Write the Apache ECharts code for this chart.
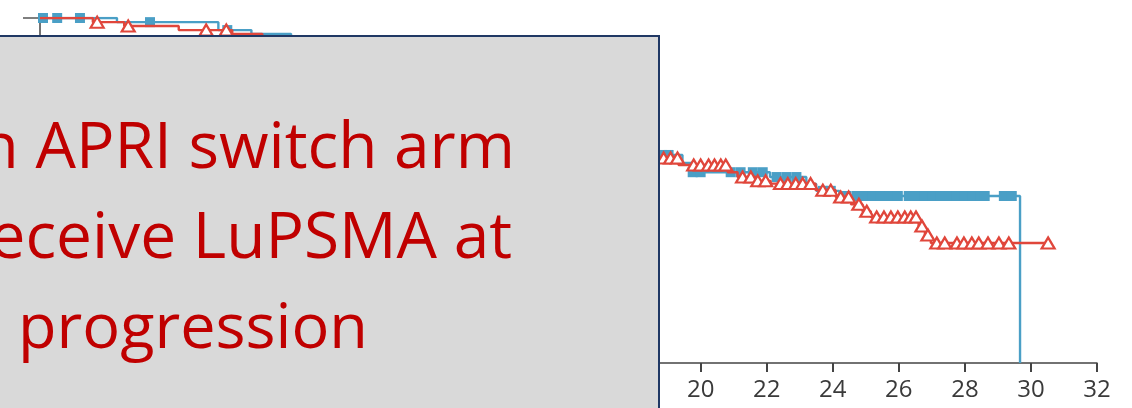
<!DOCTYPE html>
<html>
<head>
<meta charset="utf-8">
<script src="https://cdn.jsdelivr.net/npm/echarts@6/dist/echarts.min.js"></script>
<style>
  html, body { margin: 0; padding: 0; background: #fff; }
  #chart { width: 1132px; height: 408px; }
</style>
</head>
<body>
<div id="chart"></div>
<script>
// x-axis ticks (months)
const xTicks = [0, 2, 4, 6, 8, 10, 12, 14, 16, 18, 20, 22, 24, 26, 28, 30, 32];

// blue arm: step times and survival after each step
const blueTimes = [0, 2.33, 5.4, 6.4, 7.6, 8.5, 9.5, 10.3, 11.0, 12.0, 12.8, 13.6, 14.5, 15.3, 16.2, 17.0, 17.8, 18.5, 19.45, 19.75, 22.1, 23.2, 23.5, 24.2, 29.67];
const blueSurv = [1, 0.988, 0.965, 0.954, 0.945, 0.92, 0.89, 0.86, 0.83, 0.80, 0.77, 0.74, 0.71, 0.68, 0.66, 0.64, 0.62, 0.603, 0.58, 0.553, 0.539, 0.519, 0.499, 0.484, 0];
// blue censor marks (squares)
const blueCensored = [0.09, 0.52, 1.21, 3.33, 5.67, 18.85, 19.03, 19.76, 20.0, 20.91, 21.21, 21.58, 21.88, 22.3, 22.6, 22.9, 23.7, 23.94,
  24.42, 24.73, 24.97, 25.21, 25.45, 25.73, 25.97, 26.3, 26.55, 26.79, 27.03, 27.27, 27.52, 27.76, 28.0, 28.24, 28.48, 28.6, 29.18, 29.42];

// red arm: step times and survival after each step
const redTimes = [0, 1.6, 2.55, 4.2, 5.82, 6.73, 7.5, 8.4, 9.2, 10.1, 11.0, 11.9, 12.7, 13.5, 14.3, 15.3, 16.4, 17.5, 18.4, 19.33, 20.82, 21.12, 21.67, 22.12, 23.48, 24.09, 24.55, 24.9, 25.15, 26.6, 26.79, 26.97, 30.52];
const redSurv = [1, 0.988, 0.977, 0.965, 0.954, 0.945, 0.93, 0.90, 0.87, 0.84, 0.81, 0.78, 0.75, 0.72, 0.69, 0.665, 0.64, 0.615, 0.594, 0.574, 0.553, 0.539, 0.528, 0.52, 0.501, 0.481, 0.46, 0.44, 0.423, 0.397, 0.371, 0.348, 0.348];
// red censor marks (open triangles)
const redCensored = [1.73, 2.67, 5.03, 5.64, 18.88, 19.09, 19.3, 19.79, 20.0, 20.24, 20.42, 20.61, 20.76, 21.27, 21.52, 21.73, 21.97, 22.42, 22.64, 22.88,
  23.09, 23.33, 23.7, 23.94, 24.24, 24.48, 24.79, 25.03, 25.33, 25.55, 25.76, 25.97, 26.18, 26.36, 26.52, 26.7, 26.88, 27.15, 27.39, 27.76,
  27.97, 28.21, 28.42, 28.7, 29.03, 29.33, 30.52];

// overlay note
const noteLines = ['n APRI switch arm', 'eceive LuPSMA at', 'progression'];

const blue = '#4a9fc6';
const red = '#e0463b';
const noteFont = 'Open Sans';

function survAt(times, surv, t) {
  let s = surv[0];
  for (let i = 0; i < times.length; i++) {
    if (times[i] <= t) s = surv[i];
  }
  return s;
}

const chart = echarts.init(document.getElementById('chart'));

const option = {
  animation: false,
  grid: { left: 40, right: 35, top: 18, bottom: 45 },
  xAxis: {
    type: 'value',
    min: xTicks[0],
    max: xTicks[xTicks.length - 1],
    interval: 2,
    axisLine: { lineStyle: { color: '#444', width: 1.5 } },
    axisTick: { length: 9, lineStyle: { color: '#444', width: 2 } },
    axisLabel: { color: '#3a3a3a', fontFamily: noteFont, fontSize: 24, margin: 15 },
    splitLine: { show: false }
  },
  yAxis: {
    type: 'value',
    min: 0,
    max: 1,
    interval: 0.2,
    axisLine: { show: true, lineStyle: { color: '#444', width: 1.5 } },
    axisTick: { show: true, length: 17, lineStyle: { color: '#555', width: 1.5 } },
    axisLabel: { show: false },
    splitLine: { show: false }
  },
  series: [
    {
      type: 'line',
      step: 'end',
      showSymbol: false,
      data: blueTimes.map((t, i) => [t, blueSurv[i]]),
      lineStyle: { color: blue, width: 2.4 },
      z: 2
    },
    {
      type: 'scatter',
      symbol: 'rect',
      symbolSize: 10,
      data: blueCensored.map(t => [t, survAt(blueTimes, blueSurv, t)]),
      itemStyle: { color: blue, opacity: 1 },
      z: 3
    },
    {
      type: 'line',
      step: 'end',
      showSymbol: false,
      data: redTimes.map((t, i) => [t, redSurv[i]]),
      lineStyle: { color: red, width: 2.4 },
      z: 4
    },
    {
      type: 'scatter',
      symbol: 'triangle',
      symbolSize: [13, 11],
      data: redCensored.map(t => [t, survAt(redTimes, redSurv, t)]),
      itemStyle: { color: '#fff', borderColor: red, borderWidth: 2.2, opacity: 1 },
      z: 5
    }
  ],
  graphic: [
    {
      type: 'rect',
      z: 100,
      shape: { x: -10, y: 36, width: 669, height: 400 },
      style: { fill: '#d9d9d9', stroke: '#203864', lineWidth: 2 }
    },
    {
      type: 'text', z: 101, x: 515, y: 150,
      style: { text: noteLines[0], fill: '#c00000', fontFamily: noteFont, fontSize: 64, align: 'right', verticalAlign: 'middle' }
    },
    {
      type: 'text', z: 101, x: 512, y: 240,
      style: { text: noteLines[1], fill: '#c00000', fontFamily: noteFont, fontSize: 64, align: 'right', verticalAlign: 'middle' }
    },
    {
      type: 'text', z: 101, x: 18, y: 330,
      style: { text: noteLines[2], fill: '#c00000', fontFamily: noteFont, fontSize: 63, align: 'left', verticalAlign: 'middle' }
    }
  ]
};

chart.setOption(option);
window.addEventListener('resize', () => chart.resize());
</script>
</body>
</html>
